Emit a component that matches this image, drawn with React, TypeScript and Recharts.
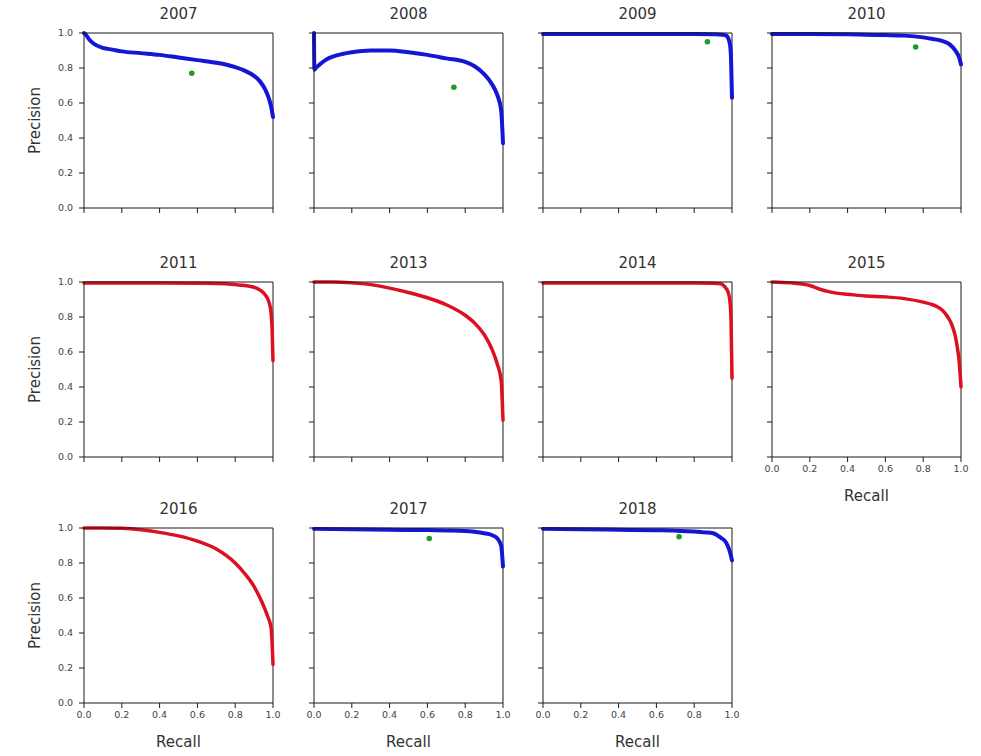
import React from 'react';
import { ComposedChart, Line, Scatter, XAxis, YAxis, ReferenceLine } from 'recharts';

// Precision / recall curves, one pair of arrays per year
const recall2007 = [0, 0.01, 0.03, 0.05, 0.1, 0.15, 0.2, 0.3, 0.4, 0.5, 0.6, 0.7, 0.75, 0.8, 0.85, 0.9, 0.93, 0.96, 0.98, 0.99, 1.0];
const precision2007 = [1.0, 0.99, 0.96, 0.94, 0.915, 0.905, 0.895, 0.885, 0.875, 0.86, 0.845, 0.83, 0.82, 0.805, 0.785, 0.755, 0.725, 0.675, 0.62, 0.58, 0.52];

const recall2008 = [0, 0.002, 0.01, 0.03, 0.06, 0.1, 0.15, 0.2, 0.3, 0.4, 0.5, 0.6, 0.7, 0.8, 0.85, 0.9, 0.94, 0.97, 0.99, 1.0];
const precision2008 = [1.0, 0.79, 0.8, 0.82, 0.845, 0.865, 0.88, 0.89, 0.9, 0.9, 0.89, 0.875, 0.855, 0.835, 0.81, 0.765, 0.71, 0.645, 0.56, 0.37];

const recall2009 = [0, 0.2, 0.4, 0.6, 0.8, 0.9, 0.95, 0.97, 0.98, 0.99, 0.995, 1.0];
const precision2009 = [0.995, 0.995, 0.995, 0.995, 0.995, 0.993, 0.99, 0.985, 0.97, 0.93, 0.85, 0.63];

const recall2010 = [0, 0.2, 0.4, 0.5, 0.6, 0.7, 0.8, 0.85, 0.9, 0.94, 0.97, 0.99, 1.0];
const precision2010 = [0.995, 0.995, 0.993, 0.99, 0.988, 0.985, 0.975, 0.966, 0.955, 0.935, 0.9, 0.86, 0.82];

const recall2011 = [0, 0.2, 0.4, 0.6, 0.75, 0.8, 0.85, 0.9, 0.93, 0.96, 0.98, 0.99, 0.995, 1.0];
const precision2011 = [0.995, 0.995, 0.995, 0.993, 0.99, 0.985, 0.98, 0.97, 0.955, 0.925, 0.88, 0.82, 0.74, 0.55];

const recall2013 = [0, 0.1, 0.2, 0.3, 0.4, 0.5, 0.6, 0.7, 0.8, 0.85, 0.9, 0.94, 0.97, 0.99, 1.0];
const precision2013 = [1.0, 1.0, 0.995, 0.985, 0.965, 0.94, 0.91, 0.87, 0.81, 0.765, 0.7, 0.62, 0.53, 0.44, 0.21];

const recall2014 = [0, 0.2, 0.4, 0.6, 0.8, 0.9, 0.94, 0.96, 0.98, 0.99, 0.995, 1.0];
const precision2014 = [0.995, 0.995, 0.995, 0.995, 0.995, 0.993, 0.99, 0.975, 0.94, 0.88, 0.78, 0.45];

const recall2015 = [0, 0.1, 0.15, 0.2, 0.25, 0.3, 0.35, 0.4, 0.5, 0.6, 0.7, 0.8, 0.85, 0.88, 0.9, 0.93, 0.95, 0.97, 0.98, 0.99, 1.0];
const precision2015 = [1.0, 0.995, 0.99, 0.98, 0.96, 0.945, 0.935, 0.93, 0.92, 0.915, 0.905, 0.885, 0.87, 0.855, 0.84, 0.8, 0.76, 0.69, 0.63, 0.55, 0.4];

const recall2016 = [0, 0.1, 0.2, 0.3, 0.4, 0.5, 0.6, 0.7, 0.8, 0.85, 0.9, 0.94, 0.97, 0.99, 1.0];
const precision2016 = [1.0, 1.0, 0.998, 0.99, 0.975, 0.955, 0.925, 0.88, 0.8, 0.74, 0.665, 0.58, 0.5, 0.43, 0.22];

const recall2017 = [0, 0.2, 0.4, 0.6, 0.7, 0.8, 0.85, 0.9, 0.94, 0.97, 0.99, 1.0];
const precision2017 = [0.995, 0.993, 0.99, 0.988, 0.986, 0.983, 0.978, 0.97, 0.96, 0.94, 0.9, 0.78];

const recall2018 = [0, 0.2, 0.4, 0.6, 0.7, 0.8, 0.85, 0.9, 0.94, 0.97, 0.99, 1.0];
const precision2018 = [0.995, 0.993, 0.99, 0.987, 0.985, 0.98, 0.975, 0.97, 0.945, 0.915, 0.86, 0.815];

// Single operating points (recall, precision) shown as green dots
const pointYears = ['2007', '2008', '2009', '2010', '2017', '2018'];
const pointRecall = [0.57, 0.74, 0.87, 0.76, 0.61, 0.72];
const pointPrecision = [0.77, 0.69, 0.95, 0.92, 0.94, 0.95];

const years = ['2007', '2008', '2009', '2010', '2011', '2013', '2014', '2015', '2016', '2017', '2018'];
const curveRecall = [recall2007, recall2008, recall2009, recall2010, recall2011, recall2013, recall2014, recall2015, recall2016, recall2017, recall2018];
const curvePrecision = [precision2007, precision2008, precision2009, precision2010, precision2011, precision2013, precision2014, precision2015, precision2016, precision2017, precision2018];
const curveGroup = ['blue', 'blue', 'blue', 'blue', 'red', 'red', 'red', 'red', 'red', 'blue', 'blue'];

const axisTicks = [0, 0.2, 0.4, 0.6, 0.8, 1.0];

// Grid layout: plot-box left edges per column and top edges per row
const colLeft = [84, 314, 543, 772];
const rowTop = [33, 282, 528];
const PLOT_W = 189;
const PLOT_H = 175;
const AXIS_W = 98;
const TITLE_H = 38;
const XAXIS_H = 78;
const RIGHT_PAD = 10;

const LINE_COLORS: Record<string, string> = { blue: '#1515d6', red: '#dc1020' };
const DOT_COLOR = '#1f9a2a';
const SPINE = '#1a1a1a';
const TEXT = '#333';

const fmt = (v: number) => v.toFixed(1);
const blank = () => '';

type PanelProps = {
  title: string;
  recall: number[];
  precision: number[];
  color: string;
  point?: { recall: number; precision: number };
  left: number;
  top: number;
  showX: boolean;
  showY: boolean;
};

function Panel({ title, recall, precision, color, point, left, top, showX, showY }: PanelProps) {
  const data = recall.map((r, i) => ({ recall: r, precision: precision[i] }));
  const tickStyle = { fontSize: 9.5, fill: '#444' };
  return (
    <div style={{ position: 'absolute', left: left - AXIS_W, top: top - TITLE_H }}>
      <ComposedChart
        width={AXIS_W + PLOT_W + RIGHT_PAD}
        height={TITLE_H + PLOT_H + XAXIS_H}
        margin={{ top: 0, right: RIGHT_PAD, bottom: 0, left: 0 }}
      >
        <XAxis
          xAxisId="b"
          dataKey="recall"
          type="number"
          domain={[0, 1]}
          ticks={axisTicks}
          tickFormatter={showX ? fmt : blank}
          height={XAXIS_H}
          tickSize={5}
          tickMargin={3}
          tick={tickStyle}
          axisLine={{ stroke: SPINE }}
          tickLine={{ stroke: SPINE }}
          interval={0}
          label={showX ? { value: 'Recall', position: 'center', fontSize: 15, fill: TEXT } : undefined}
        />
        <XAxis
          xAxisId="t"
          orientation="top"
          type="number"
          domain={[0, 1]}
          height={TITLE_H}
          tick={false}
          tickLine={false}
          axisLine={{ stroke: SPINE }}
          label={{ value: title, position: 'center', fontSize: 15, fill: TEXT }}
        />
        <YAxis
          yAxisId="l"
          dataKey="precision"
          type="number"
          domain={[0, 1]}
          ticks={axisTicks}
          tickFormatter={showY ? fmt : blank}
          width={AXIS_W}
          tickSize={5}
          tickMargin={6}
          tick={tickStyle}
          axisLine={{ stroke: SPINE }}
          tickLine={{ stroke: SPINE }}
          interval={0}
          label={showY ? { value: 'Precision', position: 'center', angle: -90, fontSize: 15, fill: TEXT } : undefined}
        />
        {/* right-hand frame edge */}
        <ReferenceLine xAxisId="b" yAxisId="l" x={1} stroke={SPINE} strokeWidth={1} />
        <Line
          xAxisId="b"
          yAxisId="l"
          data={data}
          dataKey="precision"
          type="monotone"
          stroke={LINE_COLORS[color]}
          strokeWidth={color === 'blue' ? 4 : 3.5}
          strokeLinejoin="round"
          strokeLinecap="round"
          dot={false}
          activeDot={false}
          isAnimationActive={false}
        />
        {point && (
          <Scatter
            xAxisId="b"
            yAxisId="l"
            data={[point]}
            dataKey="precision"
            fill={DOT_COLOR}
            isAnimationActive={false}
            shape={(p: any) => <circle cx={p.cx} cy={p.cy} r={2.8} fill={DOT_COLOR} />}
          />
        )}
      </ComposedChart>
    </div>
  );
}

export default function App() {
  return (
    <div
      style={{
        position: 'absolute',
        left: 0,
        top: 0,
        width: 981,
        height: 756,
        background: '#fff',
        overflow: 'hidden',
        fontFamily: '"DejaVu Sans", sans-serif',
      }}
    >
      {years.map((year, i) => {
        const col = i % 4;
        const row = Math.floor(i / 4);
        const pi = pointYears.indexOf(year);
        const point = pi >= 0 ? { recall: pointRecall[pi], precision: pointPrecision[pi] } : undefined;
        // x tick labels appear on the lowest panel of each column
        const showX = row === 2 || (row === 1 && col === 3);
        return (
          <Panel
            key={year}
            title={year}
            recall={curveRecall[i]}
            precision={curvePrecision[i]}
            color={curveGroup[i]}
            point={point}
            left={colLeft[col]}
            top={rowTop[row]}
            showX={showX}
            showY={col === 0}
          />
        );
      })}
    </div>
  );
}
